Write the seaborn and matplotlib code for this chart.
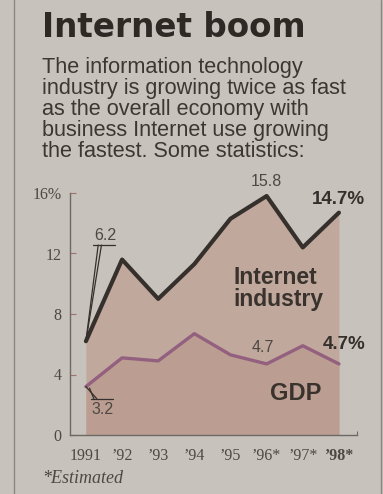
import matplotlib
matplotlib.use("Agg")
import matplotlib.pyplot as plt
import seaborn as sns
import pandas as pd

# ---- data ----
years = [1991, 1992, 1993, 1994, 1995, 1996, 1997, 1998]
year_labels = ["1991", "\u201992", "\u201993", "\u201994", "\u201995", "\u201996*", "\u201997*", "\u201998*"]
internet = [6.2, 11.6, 9.0, 11.3, 14.3, 15.8, 12.4, 14.7]
gdp = [3.2, 5.1, 4.9, 6.7, 5.3, 4.7, 5.9, 4.7]
y_ticks = [0, 4, 8, 12, 16]
y_tick_labels = ["0", "4", "8", "12", "16%"]

title = "Internet boom"
subtitle = ("The information technology\n"
            "industry is growing twice as fast\n"
            "as the overall economy with\n"
            "business Internet use growing\n"
            "the fastest. Some statistics:")
footnote = "*Estimated"

df = pd.DataFrame({"year": years, "Internet industry": internet, "GDP": gdp})

# ---- style ----
sns.set_style("ticks")
bg = "#c7c2bc"
fill_top = "#c1a89d"
fill_low = "#bb9e91"
ink = "#35302b"
tick_col = "#4d4843"
gdp_col = "#93617f"

W, H = 383, 494
fig = plt.figure(figsize=(W / 100, H / 100), dpi=100, facecolor=bg)
ax = fig.add_axes([70 / W, 59 / H, 287 / W, 242 / H], facecolor=bg)

ax.fill_between(df["year"], df["Internet industry"], 0, color=fill_top, lw=0, zorder=1)
ax.fill_between(df["year"], df["GDP"], 0, color=fill_low, lw=0, zorder=1.5)
sns.lineplot(data=df, x="year", y="Internet industry", ax=ax, color=ink, lw=3.0, zorder=3)
sns.lineplot(data=df, x="year", y="GDP", ax=ax, color=gdp_col, lw=2.4, zorder=3)

ax.set_xlim(years[0] - 0.44, years[-1] + 0.5)
ax.set_ylim(0, 16)
ax.set_xlabel("")
ax.set_ylabel("")

for s in ["top", "right"]:
    ax.spines[s].set_visible(False)
for s in ["left", "bottom"]:
    ax.spines[s].set_color("#6e6864")
    ax.spines[s].set_linewidth(1.0)

ax.set_yticks(y_ticks)
ax.set_yticklabels(y_tick_labels, fontfamily="Liberation Serif", fontsize=11.5, color=tick_col)
ax.tick_params(axis="y", direction="in", length=4, width=0.8, color="#a0706a", pad=6)

# x tick marks between years, labels under years
ax.set_xticks([y + 0.5 for y in years], minor=True)
ax.set_xticks(years)
ax.set_xticklabels(year_labels, fontfamily="Liberation Serif", fontsize=11.5, color=tick_col)
ax.get_xticklabels()[-1].set_fontweight("bold")
ax.tick_params(axis="x", which="major", length=0, pad=9)
ax.tick_params(axis="x", which="minor", direction="in", length=3, width=0.8, color="#6e6864")

sans = "Liberation Sans"
# value labels
ax.text(years[5], internet[5] + 0.95, "15.8", ha="center", va="center", fontsize=11.5,
        fontfamily=sans, color=tick_col)
ax.text(years[7] - 0.74, internet[7] + 0.85, "14.7%", ha="left", va="center", fontsize=13.5,
        fontweight="bold", fontfamily=sans, color=ink)
ax.text(years[5] - 0.1, gdp[5] + 1.1, "4.7", ha="center", va="center", fontsize=11.5,
        fontfamily=sans, color=tick_col)
ax.text(years[7] - 0.46, gdp[7] + 1.3, "4.7%", ha="left", va="center", fontsize=13.5,
        fontweight="bold", fontfamily=sans, color=ink)

# callout 6.2
x0, y0 = years[0], internet[0]
ax.plot([x0, x0 + 0.34], [y0, 12.56], color=ink, lw=0.9, zorder=4)
ax.plot([x0, x0 + 0.43], [y0, 12.56], color=ink, lw=0.9, zorder=4)
ax.plot([x0 + 0.19, x0 + 0.8], [12.56, 12.56], color=ink, lw=0.9, zorder=4)
ax.text(x0 + 0.53, 12.7, "6.2", ha="center", va="bottom", fontsize=11.5,
        fontfamily=sans, color=tick_col)

# callout 3.2
x1, y1 = years[0], gdp[0]
ax.plot([x1, x1 + 0.3], [y1, 2.4], color=ink, lw=0.9, zorder=4)
ax.plot([x1 + 0.1, x1 + 0.22], [y1 - 0.1, 2.4], color=ink, lw=0.9, zorder=4)
ax.plot([x1 + 0.15, x1 + 0.75], [2.4, 2.4], color=ink, lw=0.9, zorder=4)
ax.text(x1 + 0.46, 2.15, "3.2", ha="center", va="top", fontsize=11.5,
        fontfamily=sans, color=tick_col)

# series labels
ax.text(1995.07, 9.7, "Internet\nindustry", ha="left", va="center", fontsize=16.5,
        fontweight="bold", fontfamily=sans, color="#3a332d", linespacing=0.95)
ax.text(1996.1, 2.75, "GDP", ha="left", va="center", fontsize=17,
        fontweight="bold", fontfamily=sans, color="#3a332d")

# header text
fig.text(42 / W, 1 - 11 / H, title, ha="left", va="top", fontsize=23.5,
         fontweight="heavy", fontfamily="DejaVu Sans", color="#2e2924")
fig.text(42 / W, 1 - 57 / H, subtitle, ha="left", va="top", fontsize=15.6,
         fontfamily=sans, color="#3d3733", linespacing=1.0)
fig.text(42 / W, 1 - 478 / H, footnote, ha="left", va="center", fontsize=13,
         fontstyle="italic", fontfamily="Liberation Serif", color=tick_col)

# page frame lines
fig.add_artist(plt.Line2D([14 / W, 14 / W], [0, 1], color="#8c8782", lw=1.0))
fig.add_artist(plt.Line2D([381 / W, 381 / W], [0, 1], color="#8c8782", lw=1.0))

fig.savefig("out.png", dpi=100, facecolor=bg)
